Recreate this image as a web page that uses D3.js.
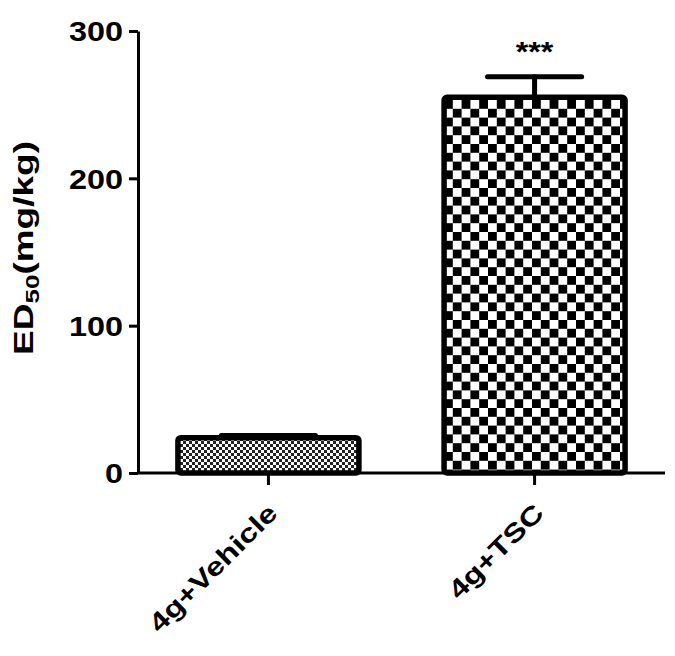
<!DOCTYPE html>
<html>
<head>
<meta charset="utf-8">
<script src="https://cdn.jsdelivr.net/npm/d3@7"></script>
<style>
  body { margin: 0; background: #fff; }
  svg { font-family: "Liberation Sans", Arial, sans-serif; font-weight: bold; }
</style>
</head>
<body>
<div id="chart"></div>
<script>
const groups = ['4g+Vehicle', '4g+TSC'];
const means = [24, 255];
const errors = [1.5, 14];
const marks = ['', '***'];
const yTicks = [0, 100, 200, 300];

const width = 675;
const height = 656;
const margin = { top: 31, right: 10, bottom: 183, left: 138 };

// the original font is wider than Arial: stretch text along its own direction
function widen(sel, k) {
  sel.each(function () {
    const len = this.getComputedTextLength();
    d3.select(this).attr('textLength', len * k).attr('lengthAdjust', 'spacingAndGlyphs');
  });
}

const svg = d3.select('#chart')
  .append('svg')
  .attr('width', width)
  .attr('height', height);

const defs = svg.append('defs');

// fine grey dots for the vehicle bar
const fine = defs.append('pattern')
  .attr('id', 'fine')
  .attr('patternUnits', 'userSpaceOnUse')
  .attr('width', 6).attr('height', 6);
fine.append('rect').attr('width', 6).attr('height', 6).attr('fill', '#fff');
fine.append('rect').attr('width', 3).attr('height', 3).attr('fill', '#222');
fine.append('rect').attr('x', 3).attr('y', 3).attr('width', 3).attr('height', 3).attr('fill', '#222');

// coarse checkerboard for the TSC bar
const coarse = defs.append('pattern')
  .attr('id', 'coarse')
  .attr('patternUnits', 'userSpaceOnUse')
  .attr('x', 444).attr('y', 100)
  .attr('width', 17.6).attr('height', 17.6);
coarse.append('rect').attr('width', 17.6).attr('height', 17.6).attr('fill', '#fff');
coarse.append('rect').attr('width', 8.8).attr('height', 8.8).attr('fill', '#000');
coarse.append('rect').attr('x', 8.8).attr('y', 8.8).attr('width', 8.8).attr('height', 8.8).attr('fill', '#000');

const x = d3.scaleBand()
  .domain(groups)
  .range([margin.left, width - margin.right])
  .paddingInner(0.32)
  .paddingOuter(0.15);

const y = d3.scaleLinear()
  .domain([0, 300])
  .range([height - margin.bottom, margin.top]);

const fills = ['url(#fine)', 'url(#coarse)'];

// error bars (drawn first, bar covers lower half)
const err = svg.append('g').attr('stroke', '#000').attr('stroke-width', 5).attr('stroke-linecap', 'round');
groups.forEach((g, i) => {
  const cx = x(g) + x.bandwidth() / 2;
  err.append('line')
    .attr('x1', cx).attr('x2', cx)
    .attr('y1', y(means[i])).attr('y2', y(means[i] + errors[i]));
  err.append('line')
    .attr('x1', cx - x.bandwidth() * 0.26).attr('x2', cx + x.bandwidth() * 0.26)
    .attr('y1', y(means[i] + errors[i])).attr('y2', y(means[i] + errors[i]));
});

svg.append('g')
  .selectAll('rect')
  .data(groups)
  .join('rect')
  .attr('x', (d) => x(d))
  .attr('y', (d, i) => y(means[i]))
  .attr('width', x.bandwidth())
  .attr('height', (d, i) => y(0) - y(means[i]))
  .attr('rx', 3)
  .attr('fill', (d, i) => fills[i])
  .attr('stroke', '#000')
  .attr('stroke-width', 5.5);

svg.append('g')
  .selectAll('text')
  .data(groups)
  .join('text')
  .attr('x', (d) => x(d) + x.bandwidth() / 2)
  .attr('y', (d, i) => y(means[i] + errors[i]) - 16)
  .attr('text-anchor', 'middle')
  .attr('font-size', 28)
  .text((d, i) => marks[i])
  .call(widen, 1.15);

// axes
const yAxis = svg.append('g')
  .attr('transform', `translate(${margin.left},0)`)
  .call(d3.axisLeft(y).tickValues(yTicks).tickSize(9).tickSizeOuter(0).tickPadding(6));
yAxis.select('.domain').attr('stroke-width', 3);
yAxis.selectAll('.tick line').attr('stroke-width', 3);
yAxis.selectAll('.tick text').attr('font-size', 27).attr('fill', '#000').attr('dy', '0.36em').call(widen, 1.2);

const xAxis = svg.append('g')
  .attr('transform', `translate(0,${y(0)})`)
  .call(d3.axisBottom(x).tickSize(12).tickSizeOuter(0).tickPadding(8));
xAxis.select('.domain').attr('stroke-width', 3).attr('d', `M${margin.left},0H${width - margin.right}`);
xAxis.selectAll('.tick line').attr('stroke-width', 3);
xAxis.selectAll('.tick text')
  .attr('font-size', 26)
  .attr('fill', '#000')
  .attr('text-anchor', 'end')
  .attr('dy', '0.3em')
  .attr('transform', 'translate(-9,22) rotate(-45)')
  .call(widen, 1.25);

// y title
const title = svg.append('text')
  .attr('transform', `translate(33,${(y(0) + y(300)) / 2 - 4}) rotate(-90)`)
  .attr('text-anchor', 'middle')
  .attr('font-size', 27);
title.append('tspan').text('ED');
title.append('tspan').attr('font-size', 19).attr('dy', 6).text('50');
title.append('tspan').attr('dy', -6).text('(mg/kg)');
title.selectAll('tspan').call(widen, 1.37);
</script>
</body>
</html>
